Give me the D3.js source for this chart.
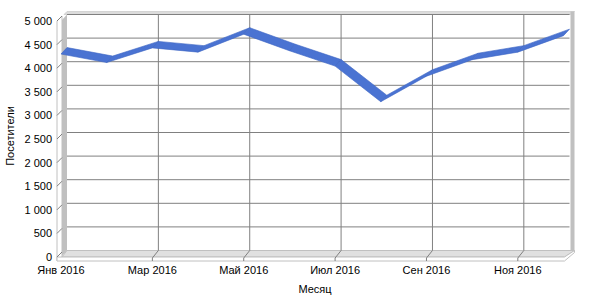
<!doctype html>
<html>
<head>
<meta charset="utf-8"/>
<script src="https://d3js.org/d3.v7.min.js"></script>
<style>
  body { margin: 0; background: #fff; }
  text { font-family: "Liberation Sans", Arial, sans-serif; font-size: 11px; fill: #000; }
</style>
</head>
<body>
<script>
// data
const months = ['Янв 2016','Фев 2016','Мар 2016','Апр 2016','Май 2016','Июн 2016',
                'Июл 2016','Авг 2016','Сен 2016','Окт 2016','Ноя 2016','Дек 2016'];
const visitors = [4300, 4120, 4430, 4340, 4720, 4370, 4045, 3290, 3830, 4180, 4340, 4690];
const yTicks = [0, 500, 1000, 1500, 2000, 2500, 3000, 3500, 4000, 4500, 5000];
const xLabelIdx = [0, 2, 4, 6, 8, 10];

const W = 600, H = 300;
const dx = 6, dy = -6.5;   // depth of the 3d box

const svg = d3.select('body').append('svg').attr('width', W).attr('height', H);

const x = d3.scalePoint().domain(months).range([61, 563.5]);
const y = d3.scaleLinear().domain([0, 5000]).range([257, 21]);

const fmt = d => d3.format(',')(d).replace(/,/g, ' ');

const xl = x(months[0]), xr = x(months[11]);
const yb = y(0), yt = y(5000);

// back wall
svg.append('rect').attr('x', xl + dx).attr('y', yt + dy).attr('width', xr - xl).attr('height', yb - yt)
   .style('fill', '#fff');

// top edge of wall
svg.append('polygon')
   .attr('points', [[xl+dx-3, yt+dy], [xl+dx, yt+dy-3], [xr+dx+5, yt+dy-3], [xr+dx+1, yt+dy]].join(' '))
   .style('fill', '#dcdcdc').style('stroke', '#c8c8c8').style('stroke-width', 0.7);

// right side of the back wall
svg.append('rect').attr('x', xr + dx + 1).attr('y', yt + dy - 3).attr('width', 4).attr('height', yb - yt + 4)
   .style('fill', '#c0c0c0');

// left wall (gray side + white slab)
svg.append('polygon')
   .attr('points', [[xl+1, yt-1], [xl+dx, yt+dy], [xl+dx, yb+dy], [xl+1, yb-1]].join(' '))
   .style('fill', '#c0c0c0');
svg.append('polygon')
   .attr('points', [[xl-4, yt], [xl+1, yt-5], [xl+1, yb], [xl-4, yb+4]].join(' '))
   .style('fill', '#fff').style('stroke', '#c0c0c0').style('stroke-width', 1);

// floor
svg.append('polygon')
   .attr('points', [[xl+1, yb], [xl+dx, yb+dy], [xr+dx+5, yb+dy], [xr+1, yb]].join(' '))
   .style('fill', '#e0e0e0').style('stroke', '#c0c0c0').style('stroke-width', 1);
svg.append('polygon')
   .attr('points', [[xl-4, yb], [xr+1, yb], [xr+dx+5, yb+dy], [xr+dx+5, yb+dy+2], [xr+1, yb+4], [xl-4, yb+4]].join(' '))
   .style('fill', '#fff').style('stroke', '#c0c0c0').style('stroke-width', 1);

// horizontal grid on back wall + diagonal pieces on the left wall
yTicks.slice(1).forEach(t => {
  svg.append('line').attr('x1', xl + dx).attr('x2', xr + dx).attr('y1', y(t) + dy).attr('y2', y(t) + dy)
     .style('stroke', '#808080').style('stroke-width', 1);
});
yTicks.forEach(t => {
  svg.append('line').attr('x1', xl - 4).attr('x2', xl + 1).attr('y1', y(t)).attr('y2', y(t) - 5)
     .style('stroke', '#808080').style('stroke-width', 1);
});

// vertical grid + x ticks
xLabelIdx.slice(1).forEach(i => {
  const xx = x(months[i]);
  svg.append('line').attr('x1', xx + dx).attr('x2', xx + dx).attr('y1', yt + dy).attr('y2', yb + dy)
     .style('stroke', '#808080').style('stroke-width', 1);
  svg.append('polyline')
     .attr('points', [[xx, yb + 4], [xx, yb + 1], [xx + dx, yb + dy]].join(' '))
     .style('fill', 'none').style('stroke', '#808080').style('stroke-width', 1);
});

// 3d ribbon
const pts = months.map((m, i) => [x(m), y(visitors[i])]);
for (let i = 0; i < pts.length - 1; i++) {
  const a = pts[i], b = pts[i + 1];
  svg.append('polygon')
     .attr('points', [a, b, [b[0] + dx, b[1] + dy], [a[0] + dx, a[1] + dy]].join(' '))
     .style('fill', '#4a73d2').style('stroke', '#3d64c2').style('stroke-width', 0.6)
     .style('stroke-linejoin', 'round');
}

// y labels
svg.selectAll('.ylab').data(yTicks).enter().append('text')
   .attr('class', 'ylab')
   .attr('x', 52).attr('y', d => y(d) + 4)
   .attr('text-anchor', 'end')
   .text(fmt);

// x labels
svg.selectAll('.xlab').data(xLabelIdx).enter().append('text')
   .attr('class', 'xlab')
   .attr('x', i => x(months[i])).attr('y', 274)
   .attr('text-anchor', 'middle')
   .text(i => months[i]);

// axis titles
svg.append('text').attr('x', 315).attr('y', 293).attr('text-anchor', 'middle').text('Месяц');
svg.append('text').attr('transform', 'translate(14,136) rotate(-90)').attr('text-anchor', 'middle').text('Посетители');
</script>
</body>
</html>
